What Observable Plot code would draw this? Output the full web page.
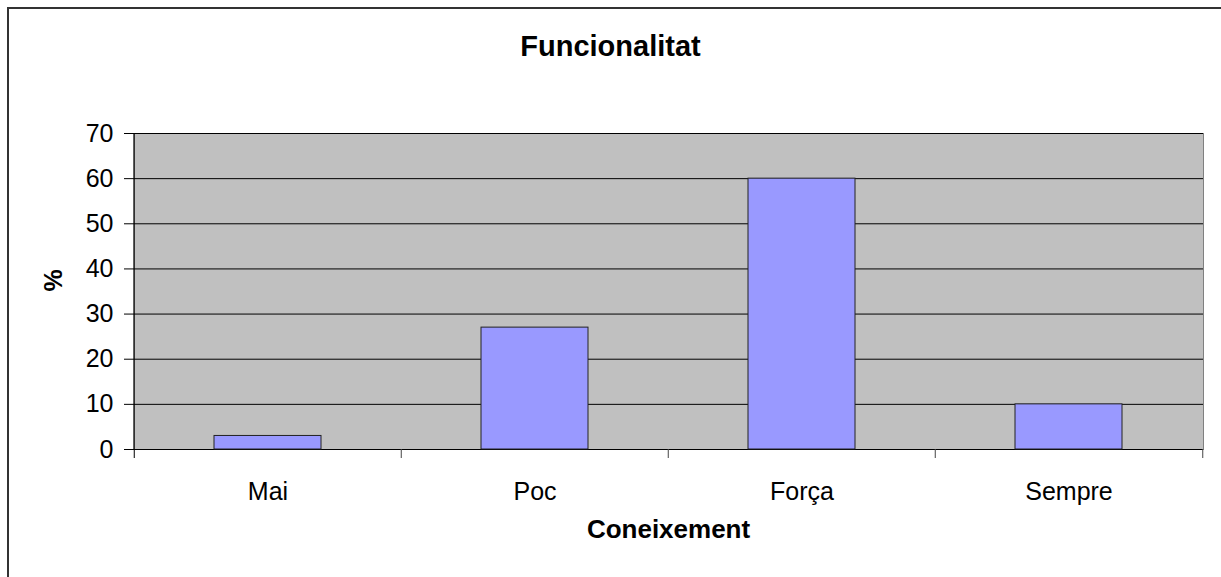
<!DOCTYPE html>
<html>
<head>
<meta charset="utf-8">
<script src="https://cdn.jsdelivr.net/npm/d3@7"></script>
<script src="https://cdn.jsdelivr.net/npm/@observablehq/plot@0.6"></script>
<style>
  body { margin: 0; background: #fff; font-family: "Liberation Sans", Arial, sans-serif; }
  #wrap { position: relative; width: 1221px; height: 577px; overflow: hidden; background: #fff; }
  #border { position: absolute; left: 7px; top: 7px; width: 1400px; height: 800px;
            border-top: 2px solid #333; border-left: 2px solid #333; }
  #title { position: absolute; left: 0; top: 0; width: 1221px; height: 100px; text-align: center;
           font-weight: bold; font-size: 29px; line-height: 92px; color: #000; }
  #chart { position: absolute; left: 0; top: 100px; }
</style>
</head>
<body>
<div id="wrap">
  <div id="border"></div>
  <div id="title">Funcionalitat</div>
  <div id="chart"></div>
</div>
<script>
const categories = ["Mai", "Poc", "Força", "Sempre"];
const values = [3, 27, 60, 10];
const yTicks = [0, 10, 20, 30, 40, 50, 60, 70];
const yLabel = "%";
const xLabel = "Coneixement";

const data = categories.map((c, i) => ({cat: c, val: values[i]}));

const width = 1221, height = 477;
const marginLeft = 133, marginRight = 18, marginTop = 33, marginBottom = 128;
const halfStep = (width - marginLeft - marginRight) / categories.length / 2;

const chart = Plot.plot({
  width, height, marginLeft, marginRight, marginTop, marginBottom,
  style: {fontFamily: '"Liberation Sans", Arial, sans-serif', fontSize: "25px", color: "#000", background: "transparent", overflow: "visible"},
  x: {domain: categories, paddingInner: 0.6, paddingOuter: 0.3},
  y: {domain: [0, 70]},
  marks: [
    Plot.frame({fill: "#C0C0C0", stroke: "#808080"}),
    Plot.gridY(yTicks, {stroke: "#000", strokeOpacity: 1}),
    Plot.barY(data, {x: "cat", y: "val", fill: "#9999FF", stroke: "#222", strokeWidth: 1}),
    Plot.axisY(yTicks, {tickSize: 9, tickPadding: 11, label: null, stroke: "#000", fontSize: 25}),
    Plot.axisX({tickSize: 0, tickPadding: 33, label: null, fontSize: 25}),
    Plot.ruleX([categories[0]], {y1: 70, y2: 0, insetBottom: -9, dx: -halfStep, stroke: "#000"}),
    Plot.ruleX(categories.slice(1), {y1: 0, y2: 0, insetBottom: -9, dx: -halfStep, stroke: "#444"}),
    Plot.ruleX([categories[categories.length - 1]], {y1: 0, y2: 0, insetBottom: -9, dx: halfStep, stroke: "#444"}),
    Plot.text([yLabel], {frameAnchor: "left", dx: -80, rotate: -90, fontWeight: "bold", fontSize: 25}),
    Plot.text([xLabel], {frameAnchor: "bottom", dy: 88, fontWeight: "bold", fontSize: 26})
  ]
});
document.getElementById("chart").appendChild(chart);
</script>
</body>
</html>
